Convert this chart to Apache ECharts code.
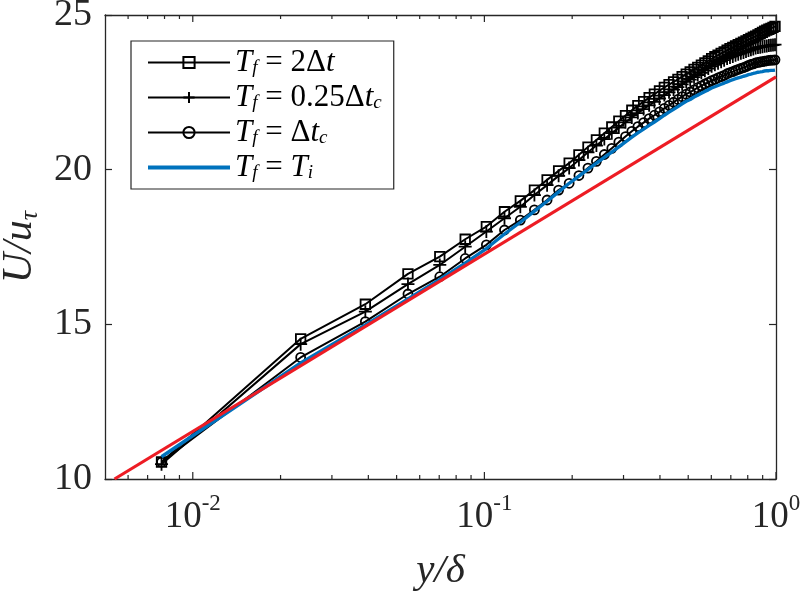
<!DOCTYPE html>
<html>
<head>
<meta charset="utf-8">
<script src="https://cdn.jsdelivr.net/npm/echarts@6/dist/echarts.min.js"></script>
<style>html,body{margin:0;padding:0;background:#fff}#c{width:800px;height:593px}</style>
</head>
<body>
<div id="c"></div>
<script>
// ---- data ----
const yPos = [0.0078125,0.0234375,0.0390625,0.0546875,0.0703125,0.0859375,0.1015625,0.1171875,0.1328125,0.1484375,0.1640625,0.1796875,0.1953125,0.2109375,0.2265625,0.2421875,0.2578125,0.2734375,0.2890625,0.3046875,0.3203125,0.3359375,0.3515625,0.3671875,0.3828125,0.3984375,0.4140625,0.4296875,0.4453125,0.4609375,0.4765625,0.4921875,0.5078125,0.5234375,0.5390625,0.5546875,0.5703125,0.5859375,0.6015625,0.6171875,0.6328125,0.6484375,0.6640625,0.6796875,0.6953125,0.7109375,0.7265625,0.7421875,0.7578125,0.7734375,0.7890625,0.8046875,0.8203125,0.8359375,0.8515625,0.8671875,0.8828125,0.8984375,0.9140625,0.9296875,0.9453125,0.9609375,0.9765625,0.9921875];
const uTf2dt = [10.55,14.53,15.65,16.63,17.19,17.75,18.16,18.64,18.99,19.34,19.67,19.96,20.21,20.48,20.73,20.96,21.18,21.38,21.57,21.75,21.92,22.07,22.20,22.33,22.44,22.55,22.66,22.75,22.84,22.92,23.01,23.09,23.16,23.24,23.31,23.38,23.45,23.52,23.59,23.65,23.70,23.76,23.81,23.86,23.91,23.95,24.00,24.04,24.08,24.12,24.16,24.20,24.24,24.28,24.32,24.36,24.40,24.44,24.48,24.51,24.54,24.57,24.60,24.63];
const uTf025 = [10.48,14.36,15.41,16.30,16.92,17.51,18.00,18.43,18.80,19.18,19.50,19.80,20.05,20.31,20.56,20.78,20.99,21.18,21.36,21.53,21.69,21.83,21.96,22.08,22.19,22.30,22.41,22.50,22.59,22.67,22.76,22.84,22.91,22.99,23.06,23.13,23.20,23.27,23.34,23.39,23.44,23.49,23.54,23.59,23.63,23.66,23.70,23.73,23.76,23.79,23.82,23.85,23.88,23.90,23.93,23.95,23.96,23.97,23.99,24.00,24.01,24.02,24.03,24.04];
const uTfdtc = [10.55,13.93,15.09,15.98,16.54,17.13,17.57,18.05,18.37,18.70,19.02,19.34,19.56,19.81,20.05,20.27,20.49,20.69,20.89,21.07,21.24,21.39,21.52,21.65,21.76,21.87,21.98,22.08,22.18,22.27,22.36,22.44,22.51,22.58,22.65,22.71,22.77,22.82,22.88,22.92,22.97,23.01,23.05,23.10,23.14,23.17,23.21,23.24,23.27,23.30,23.33,23.37,23.40,23.42,23.45,23.47,23.48,23.49,23.51,23.52,23.53,23.54,23.54,23.55];
const uTfTi = [10.72,13.75,14.98,15.82,16.45,16.98,17.45,17.92,18.30,18.66,18.98,19.28,19.56,19.79,20.01,20.21,20.40,20.57,20.74,20.90,21.05,21.19,21.31,21.43,21.54,21.65,21.76,21.86,21.95,22.04,22.13,22.21,22.27,22.35,22.41,22.47,22.53,22.58,22.64,22.68,22.72,22.76,22.80,22.84,22.88,22.91,22.94,22.97,22.99,23.02,23.04,23.07,23.09,23.11,23.13,23.15,23.16,23.17,23.19,23.20,23.20,23.21,23.21,23.22];
const logLawX = [0.00539, 1];
const logLawU = [10, 23.0];
const xMajorTicks = [0.01, 0.1, 1];
const xMinorTicks = [0.006,0.007,0.008,0.009,0.02,0.03,0.04,0.05,0.06,0.07,0.08,0.09,0.2,0.3,0.4,0.5,0.6,0.7,0.8,0.9];
const yTicks = [10, 15, 20, 25];
const seriesNames = ['Tf=2dt', 'Tf=0.25dtc', 'Tf=dtc', 'Tf=Ti'];
const legendLabels = {
  'Tf=2dt': '{i|T}{s|f}{n| = 2Δ}{i|t}',
  'Tf=0.25dtc': '{i|T}{s|f}{n| = 0.25Δ}{i|t}{s|c}',
  'Tf=dtc': '{i|T}{s|f}{n| = Δ}{i|t}{s|c}',
  'Tf=Ti': '{i|T}{s|f}{n| = }{i|T}{s|i}'
};

// ---- chart ----
const FONT = "'Liberation Serif', 'DejaVu Serif', serif";
const AX = '#262626';
const X_MIN = 0.005, X_MAX = 1, Y_MIN = 10, Y_MAX = 25;
const zip = (xs, ys) => xs.map((x, i) => [x, ys[i]]);
const tickData = xMajorTicks.map(v => [v, 1]).concat(xMinorTicks.map(v => [v, 0]));

const markerStyle = { color: 'rgba(0,0,0,0)', borderColor: '#000', borderWidth: 1.8 };
const blackLine = { color: '#000', width: 2 };

const chart = echarts.init(document.getElementById('c'), null, { renderer: 'canvas' });
chart.setOption({
  animation: false,
  backgroundColor: '#fff',
  grid: { left: 105, right: 24, top: 15, bottom: 114, containLabel: false, outerBoundsMode: 'none' },
  legend: {
    orient: 'vertical', left: 131, top: 41,
    padding: [6, 12, 6, 15],
    itemWidth: 82, itemHeight: 14, itemGap: 4,
    borderColor: AX, borderWidth: 1.2, backgroundColor: '#fff',
    lineStyle: { width: 2 },
    data: [
      { name: seriesNames[0] }, { name: seriesNames[1] }, { name: seriesNames[2] },
      { name: seriesNames[3], lineStyle: { width: 4, color: '#0072BD' },
        itemStyle: { color: 'rgba(0,0,0,0)', borderWidth: 0, opacity: 0 } }
    ],
    formatter: n => legendLabels[n],
    textStyle: {
      fontFamily: FONT, fontSize: 31, color: '#000', lineHeight: 30,
      rich: {
        i: { fontFamily: FONT, fontStyle: 'italic', fontSize: 31, lineHeight: 30, verticalAlign: 'middle' },
        n: { fontFamily: FONT, fontSize: 31, lineHeight: 30, verticalAlign: 'middle' },
        s: { fontFamily: FONT, fontStyle: 'italic', fontSize: 19, lineHeight: 12, verticalAlign: 'bottom' }
      }
    }
  },
  xAxis: [{
    type: 'log', logBase: 10, min: X_MIN, max: X_MAX, position: 'bottom',
    axisLine: { show: true, lineStyle: { color: AX, width: 1.3 } },
    axisTick: { show: false }, splitLine: { show: false },
    axisLabel: {
      margin: 13, color: AX, fontFamily: FONT,
      formatter: v => {
        const e = Math.log10(v);
        if (Math.abs(e - Math.round(e)) > 1e-6) return '';
        return '{b|10}{p|' + Math.round(e) + '}';
      },
      rich: {
        b: { fontFamily: FONT, fontSize: 37, color: AX, verticalAlign: 'bottom', lineHeight: 44 },
        p: { fontFamily: FONT, fontSize: 23, color: AX, verticalAlign: 'top', lineHeight: 44 }
      }
    },
    name: '{i|y/δ}', nameLocation: 'middle', nameGap: 72,
    nameTextStyle: { rich: { i: { fontFamily: FONT, fontStyle: 'italic', fontSize: 41, color: AX } } }
  }, {
    type: 'log', logBase: 10, min: X_MIN, max: X_MAX, position: 'top',
    axisLine: { show: true, lineStyle: { color: AX, width: 1.3 } },
    axisTick: { show: false }, axisLabel: { show: false }, splitLine: { show: false }
  }],
  yAxis: [{
    type: 'value', min: Y_MIN, max: Y_MAX, interval: 5, position: 'left',
    axisLine: { show: true, lineStyle: { color: AX, width: 1.3 } },
    axisTick: { show: true, inside: true, length: 7, lineStyle: { color: AX, width: 1.2 } },
    splitLine: { show: false },
    axisLabel: { margin: 13, color: AX, fontFamily: FONT, fontSize: 38,
      formatter: v => (yTicks.indexOf(v) >= 0 ? String(v) : '') },
    name: '{i|U/u}{s|τ}', nameLocation: 'middle', nameGap: 48, nameRotate: 90,
    nameTextStyle: { rich: {
      i: { fontFamily: FONT, fontStyle: 'italic', fontSize: 42, color: AX, verticalAlign: 'middle', lineHeight: 46 },
      s: { fontFamily: FONT, fontStyle: 'italic', fontSize: 26, color: AX, verticalAlign: 'bottom', lineHeight: 46 }
    } }
  }, {
    type: 'value', min: Y_MIN, max: Y_MAX, interval: 5, position: 'right',
    axisLine: { show: true, lineStyle: { color: AX, width: 1.3 } },
    axisTick: { show: true, inside: true, length: 7, lineStyle: { color: AX, width: 1.2 } },
    axisLabel: { show: false }, splitLine: { show: false }
  }],
  series: [
    {
      name: seriesNames[0], type: 'line', data: zip(yPos, uTf2dt),
      symbol: 'rect', symbolSize: 9.5, itemStyle: markerStyle, lineStyle: blackLine,
      emphasis: { disabled: true }, silent: true, z: 3
    },
    {
      name: seriesNames[1], type: 'line', data: zip(yPos, uTf025),
      symbol: 'path://M5,0L5,10M0,5L10,5', symbolSize: 13, itemStyle: markerStyle, lineStyle: blackLine,
      emphasis: { disabled: true }, silent: true, z: 3
    },
    {
      name: seriesNames[2], type: 'line', data: zip(yPos, uTfdtc),
      symbol: 'circle', symbolSize: 9, itemStyle: markerStyle, lineStyle: blackLine,
      emphasis: { disabled: true }, silent: true, z: 3
    },
    {
      name: seriesNames[3], type: 'line', data: zip(yPos, uTfTi),
      symbol: 'none', itemStyle: { color: '#0072BD' }, lineStyle: { color: '#0072BD', width: 3.4 },
      emphasis: { disabled: true }, silent: true, z: 4
    },
    {
      name: 'log law', type: 'line', data: zip(logLawX, logLawU),
      symbol: 'none', itemStyle: { color: '#ED1C24' }, lineStyle: { color: '#ED1C24', width: 3.2 },
      emphasis: { disabled: true }, silent: true, z: 5
    },
    {
      name: 'xticks', type: 'custom', data: tickData, silent: true, z: 6, clip: false,
      encode: { x: 0, y: -1 },
      renderItem: (params, api) => {
        const x = api.value(0), major = api.value(1);
        const b = api.coord([x, Y_MIN]), t = api.coord([x, Y_MAX]);
        const L = major ? 7 : 4;
        const st = { stroke: AX, lineWidth: 1.2 };
        return { type: 'group', children: [
          { type: 'line', shape: { x1: b[0], y1: b[1], x2: b[0], y2: b[1] - L }, style: st },
          { type: 'line', shape: { x1: t[0], y1: t[1], x2: t[0], y2: t[1] + L }, style: st }
        ] };
      }
    }
  ]
});
</script>
</body>
</html>
